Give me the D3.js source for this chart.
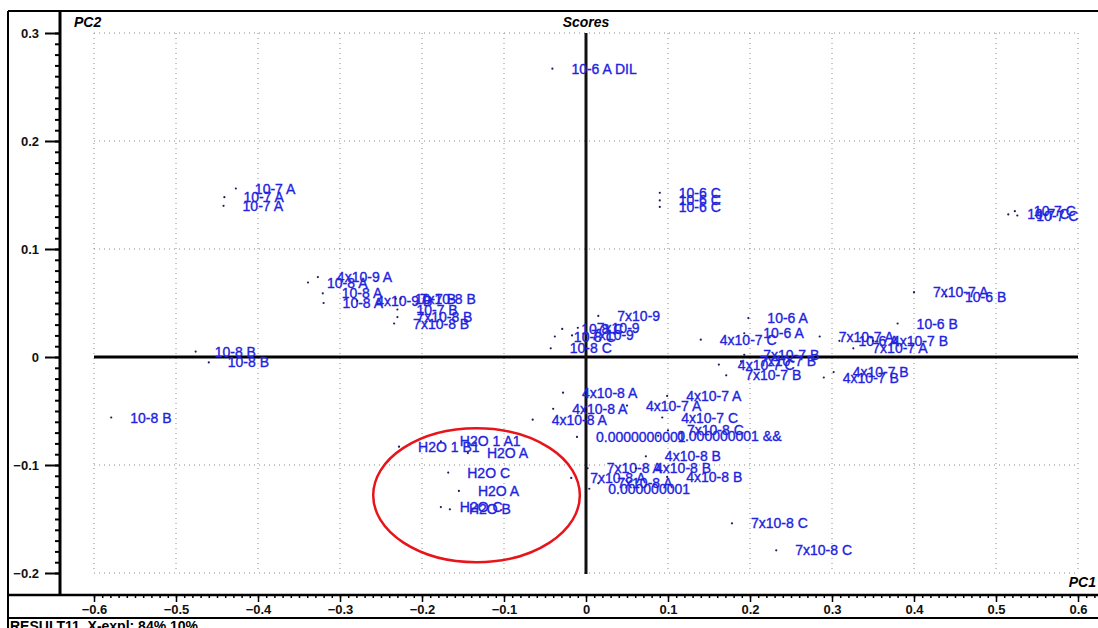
<!DOCTYPE html>
<html>
<head>
<meta charset="utf-8">
<script src="https://cdn.jsdelivr.net/npm/d3@7"></script>
<style>
  body { margin: 0; background: #fff; }
  text { font-family: Arial, "Liberation Sans", sans-serif; }
</style>
</head>
<body>
<script>
// sample names, PC1 and PC2 scores
var sampleLabels = [
    "10-6 A DIL",
    "10-7 A", "10-7 A", "10-7 A",
    "4x10-9 A", "10-8 A", "10-8 A", "10-8 A",
    "4x10-9 B", "10-7 B", "7x10-8 B", "10-7 B", "7x10-8 B", "7x10-8 B",
    "10-8 B", "10-8 B", "10-8 B",
    "7x10-9", "7x10-9", "7x10-9",
    "10-8 C", "10-8 C", "10-8 C",
    "10-6 C", "10-6 C", "10-6 C",
    "10-7 C", "10-7 C", "10-7 C",
    "7x10-7 A", "10-6 B", "10-6 B",
    "10-6 A", "10-6 A", "4x10-7 C", "7x10-7 A", "10-6 A", "4x10-7 B", "7x10-7 A",
    "7x10-7 B", "4x10-7 C", "7x10-7 B", "7x10-7 B", "4x10-7 B", "4x10-7 B",
    "4x10-7 A", "4x10-7 A", "4x10-7 C", "7x10-8 C",
    "0.0000000001", "0.000000001  &&",
    "4x10-8 A", "4x10-8 A", "4x10-8 A",
    "4x10-8 B", "7x10-8 A", "4x10-8 B", "4x10-8 B", "7x10-8 A", "7x10-8 A", "0.000000001",
    "7x10-8 C", "7x10-8 C",
    "H2O 1 A1", "H2O 1 B1", "H2O A", "H2O C", "H2O A", "H2O C", "H2O B"
];
var pc1Scores = [
    -0.041,
    -0.427, -0.441, -0.442,
    -0.327, -0.339, -0.321, -0.320,
    -0.279, -0.232, -0.226, -0.230, -0.230, -0.234,
    -0.476, -0.460, -0.579,
    0.015, -0.010, -0.017,
    -0.029, -0.038, -0.043,
    0.090, 0.090, 0.090,
    0.515, 0.523, 0.526,
    0.400, 0.439, 0.380,
    0.198, 0.193, 0.140, 0.285, 0.309, 0.350, 0.326,
    0.193, 0.162, 0.189, 0.171, 0.290, 0.302,
    0.099, 0.050, 0.093, 0.100,
    -0.011, 0.088,
    -0.028, -0.040, -0.065,
    0.073, 0.002, 0.061, 0.099, -0.018, 0.015, 0.004,
    0.178, 0.232,
    -0.177, -0.228, -0.144, -0.168, -0.155, -0.177, -0.166
];
var pc2Scores = [
    0.267,
    0.156, 0.148, 0.140,
    0.074, 0.069, 0.059, 0.050,
    0.052, 0.054, 0.054, 0.044, 0.037, 0.031,
    0.005, -0.005, -0.056,
    0.038, 0.027, 0.020,
    0.026, 0.019, 0.008,
    0.152, 0.145, 0.139,
    0.132, 0.135, 0.131,
    0.060, 0.056, 0.031,
    0.036, 0.022, 0.016, 0.019, 0.015, 0.015, 0.008,
    0.002, -0.007, -0.004, -0.017, -0.019, -0.014,
    -0.036, -0.045, -0.056, -0.068,
    -0.074, -0.073,
    -0.033, -0.048, -0.058,
    -0.092, -0.103, -0.103, -0.111, -0.112, -0.117, -0.122,
    -0.154, -0.179,
    -0.078, -0.083, -0.089, -0.107, -0.124, -0.139, -0.141
];

var xTicks = [-0.6, -0.5, -0.4, -0.3, -0.2, -0.1, 0, 0.1, 0.2, 0.3, 0.4, 0.5, 0.6];
var yTicks = [-0.2, -0.1, 0, 0.1, 0.2, 0.3];

// hand drawn red ring round the water blanks (centre and radii in score units)
var ringCentre = [-0.1335, -0.128],
    ringRadius = [0.126, 0.062];

var width = 1098,
    height = 628;

var svg = d3.select("body").append("svg")
    .attr("width", width)
    .attr("height", height);

var x = d3.scaleLinear().domain([-0.6, 0.6]).range([94, 1078]);
var y = d3.scaleLinear().domain([-0.2, 0.3]).range([573, 33]);

var fmt = function (d) { return d === 0 ? "0" : d3.format(".1f")(d); };

// grid
svg.append("g").selectAll("line")
    .data(xTicks)
    .enter().append("line")
    .attr("x1", x).attr("x2", x)
    .attr("y1", y(0.3)).attr("y2", y(-0.2))
    .style("stroke", "#8a8a8a")
    .style("stroke-dasharray", "1,4");

svg.append("g").selectAll("line")
    .data(yTicks)
    .enter().append("line")
    .attr("x1", x(-0.6)).attr("x2", x(0.6))
    .attr("y1", y).attr("y2", y)
    .style("stroke", "#8a8a8a")
    .style("stroke-dasharray", "1,4");

// zero lines
svg.append("line")
    .attr("x1", x(-0.6)).attr("x2", x(0.6))
    .attr("y1", y(0)).attr("y2", y(0))
    .style("stroke", "#000").style("stroke-width", 3);
svg.append("line")
    .attr("x1", x(0)).attr("x2", x(0))
    .attr("y1", y(0.3)).attr("y2", y(-0.2) + 1)
    .style("stroke", "#111").style("stroke-width", 3);

// frame
svg.append("line").attr("x1", 8).attr("x2", width).attr("y1", 11).attr("y2", 11)
    .style("stroke", "#000").style("stroke-width", 2);
svg.append("line").attr("x1", 8).attr("x2", 8).attr("y1", 11).attr("y2", height)
    .style("stroke", "#000").style("stroke-width", 2);
svg.append("line").attr("x1", 8).attr("x2", width).attr("y1", 618).attr("y2", 618)
    .style("stroke", "#000").style("stroke-width", 2);

// y axis
var yMinor = d3.range(-20, 31).map(function (i) { return i / 100; });
var yAxis = d3.axisLeft(y)
    .tickValues(yTicks)
    .tickFormat(fmt)
    .tickSize(15)
    .tickPadding(6);
var yAxisMinor = d3.axisLeft(y).tickValues(yMinor).tickSize(5).tickFormat("");

var gyMinor = svg.append("g").attr("transform", "translate(60,0)").call(yAxisMinor);
var gy = svg.append("g").attr("transform", "translate(60,0)").call(yAxis);
[gy, gyMinor].forEach(function (g) {
    g.select(".domain").remove();
    g.selectAll("line").style("stroke", "#000").style("stroke-width", 2);
});
gy.selectAll("text")
    .style("font-size", "13px")
    .style("font-weight", "bold")
    .style("fill", "#111");
svg.append("line").attr("x1", 60).attr("x2", 60).attr("y1", 11).attr("y2", 596)
    .style("stroke", "#000").style("stroke-width", 3);

// x axis
var xMinor = d3.range(-60, 63).map(function (i) { return i / 100; });
var xAxis = d3.axisBottom(x)
    .tickValues(xTicks)
    .tickFormat(fmt)
    .tickSize(7)
    .tickPadding(3);
var xAxisMinor = d3.axisBottom(x).tickValues(xMinor).tickSize(3).tickFormat("");

var gxMinor = svg.append("g").attr("transform", "translate(0,595)").call(xAxisMinor);
var gx = svg.append("g").attr("transform", "translate(0,595)").call(xAxis);
[gx, gxMinor].forEach(function (g) {
    g.select(".domain").remove();
    g.selectAll("line").style("stroke", "#000").style("stroke-width", 1.5);
});
gx.selectAll("text")
    .style("font-size", "13px")
    .style("font-weight", "bold")
    .style("fill", "#111");
svg.append("line").attr("x1", 8).attr("x2", width).attr("y1", 595).attr("y2", 595)
    .style("stroke", "#000").style("stroke-width", 2.5);

// titles
svg.append("text").attr("x", 74).attr("y", 27).text("PC2")
    .style("font-size", "14px").style("font-style", "italic").style("font-weight", "bold");
svg.append("text").attr("x", x(0)).attr("y", 27).attr("text-anchor", "middle").text("Scores")
    .style("font-size", "14px").style("font-style", "italic").style("font-weight", "bold");
svg.append("text").attr("x", 1096).attr("y", 587).attr("text-anchor", "end").text("PC1")
    .style("font-size", "14px").style("font-style", "italic").style("font-weight", "bold");
svg.append("text").attr("x", 10).attr("y", 631).text("RESULT11, X-expl: 84%,10%")
    .style("font-size", "14px").style("font-weight", "bold");

// scores
var scores = sampleLabels.map(function (d, i) {
    return { name: d, pc1: pc1Scores[i], pc2: pc2Scores[i] };
});

var node = svg.append("g").selectAll("g")
    .data(scores)
    .enter().append("g")
    .attr("transform", function (d) {
        return "translate(" + x(d.pc1) + "," + y(d.pc2) + ")";
    });

node.append("circle")
    .attr("r", 1.1)
    .attr("fill", "#1c1c5a");

node.append("text")
    .attr("x", 19)
    .attr("dy", "0.36em")
    .text(function (d) { return d.name; })
    .style("font-size", "14px")
    .style("fill", "#2222e0")
    .style("stroke", "#2222e0")
    .style("stroke-width", 0.35);

// red ring
svg.append("ellipse")
    .attr("cx", x(ringCentre[0]))
    .attr("cy", y(ringCentre[1]))
    .attr("rx", x(ringRadius[0]) - x(0))
    .attr("ry", y(0) - y(ringRadius[1]))
    .style("fill", "none")
    .style("stroke", "#e8141a")
    .style("stroke-width", 2.5);
</script>
</body>
</html>
